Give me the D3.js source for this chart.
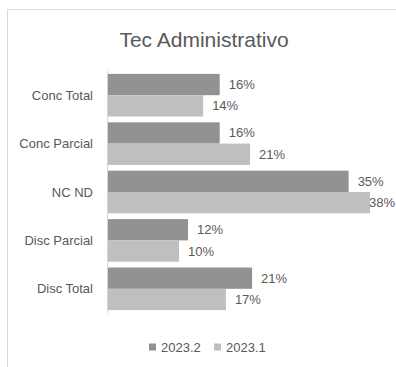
<!DOCTYPE html>
<title>Tec Administrativo</title>
<style>
  body { margin: 0; background: #fff; }
  svg { display: block; font-family: "Liberation Sans", "Noto Sans", sans-serif; }
</style>
<svg width="396" height="367"></svg>
<script src="https://d3js.org/d3.v7.min.js"></script>
<script>

var categories = ["Conc Total", "Conc Parcial", "NC ND", "Disc Parcial", "Disc Total"];
var seriesNames = ["2023.2", "2023.1"];
var values20232 = [0.162, 0.162, 0.349, 0.116, 0.209];
var values20231 = [0.138, 0.206, 0.380, 0.103, 0.171];
var seriesColors = ["#929292", "#bfbfbf"];

var svg = d3.select("svg"),
    width = +svg.attr("width"),
    height = +svg.attr("height");

var textColor = "#595959",
    fmt = d3.format(".0%");

// chart area frame (clipped by the window on the right and bottom)
svg.append("rect")
    .attr("x", 7.5).attr("y", 9.5)
    .attr("width", 420).attr("height", 400)
    .attr("fill", "#fff")
    .attr("stroke", "#d9d9d9");

svg.append("text")
    .attr("x", 204).attr("y", 47)
    .attr("text-anchor", "middle")
    .attr("font-size", 21)
    .attr("fill", textColor)
    .text("Tec Administrativo");

var y = d3.scaleBand()
    .domain(categories)
    .range([71, 313])
    .paddingInner(0.12)
    .paddingOuter(0.06);

var ySub = d3.scaleBand()
    .domain(seriesNames)
    .range([0, y.bandwidth()]);

var x = d3.scaleLinear()
    .domain([0, 0.38])
    .range([108, 370]);

var rows = categories.map(function(c, i) {
  return { cat: c, vals: [values20232[i], values20231[i]] };
});

var group = svg.append("g").selectAll("g")
  .data(rows)
  .enter().append("g")
    .attr("transform", function(d) { return "translate(0," + y(d.cat) + ")"; });

var bars = group.selectAll("g")
  .data(function(d) { return d.vals.map(function(v, j) { return { s: seriesNames[j], v: v, j: j }; }); })
  .enter();

bars.append("rect")
    .attr("x", x(0))
    .attr("y", function(d) { return ySub(d.s); })
    .attr("width", function(d) { return x(d.v) - x(0); })
    .attr("height", ySub.bandwidth())
    .attr("fill", function(d) { return seriesColors[d.j]; });

bars.append("text")
    .attr("x", function(d) { return x(d.v) + 9; })
    .attr("y", function(d) { return ySub(d.s) + ySub.bandwidth() / 2; })
    .attr("dy", "0.35em")
    .attr("font-size", 13)
    .attr("fill", textColor)
    .text(function(d) { return fmt(d.v); })
    .each(function() {
      // keep labels inside the window, like the squeezed 38% in the original
      var w = this.getComputedTextLength(),
          x0 = +this.getAttribute("x");
      if (x0 + w > width - 1) this.setAttribute("x", width - 1 - w);
    });

// category axis
svg.append("line")
    .attr("x1", 107.5).attr("x2", 107.5)
    .attr("y1", y.range()[0]).attr("y2", y.range()[1])
    .attr("stroke", "#d9d9d9");

svg.append("g").selectAll("text")
  .data(categories)
  .enter().append("text")
    .attr("x", 93)
    .attr("y", function(d) { return y(d) + y.bandwidth() / 2; })
    .attr("dy", "0.35em")
    .attr("text-anchor", "end")
    .attr("font-size", 13)
    .attr("fill", textColor)
    .text(function(d) { return d; });

// legend
var legendX = [149, 214];
var legend = svg.append("g").selectAll("g")
  .data(seriesNames)
  .enter().append("g")
    .attr("transform", function(d, i) { return "translate(" + legendX[i] + ",347)"; });

legend.append("rect")
    .attr("x", 0).attr("y", -3.5)
    .attr("width", 7).attr("height", 7)
    .attr("fill", function(d, i) { return seriesColors[i]; });

legend.append("text")
    .attr("x", 12).attr("dy", "0.35em")
    .attr("font-size", 13)
    .attr("fill", textColor)
    .text(function(d) { return d; });

</script>
